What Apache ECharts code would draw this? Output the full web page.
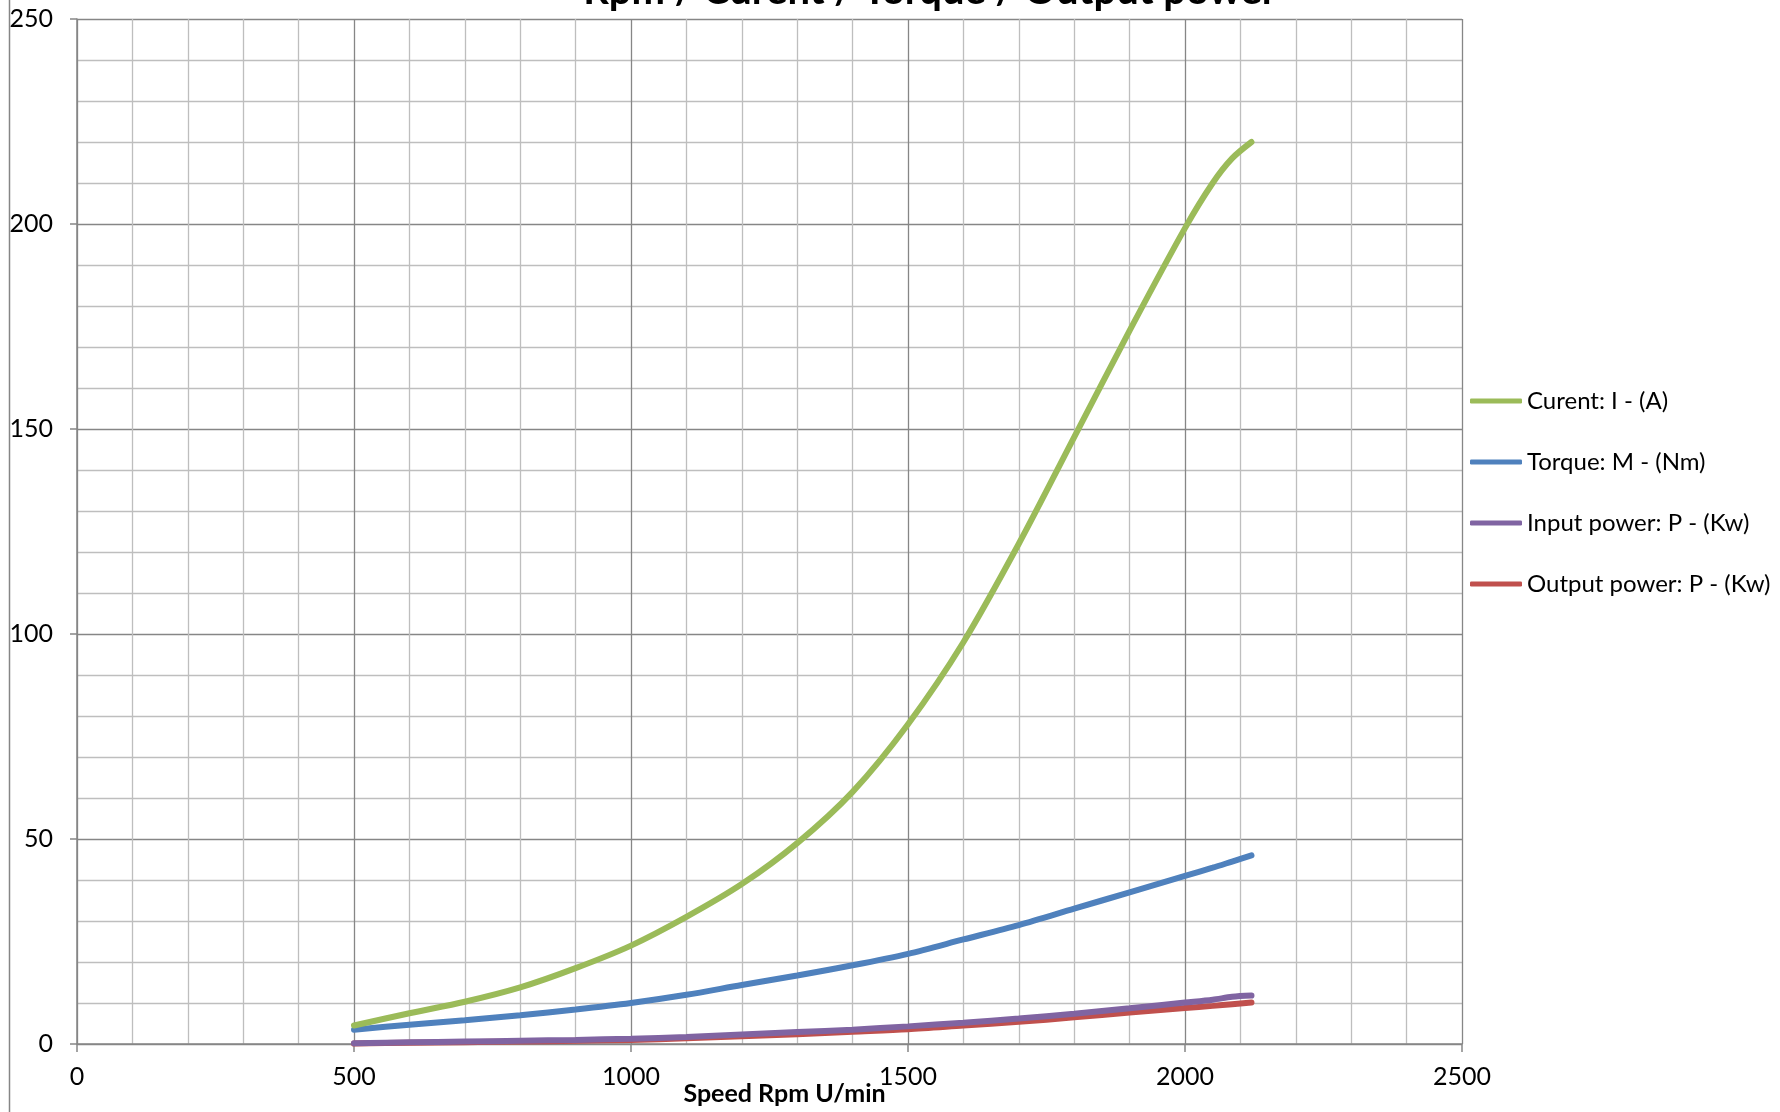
<!DOCTYPE html>
<html>
<head>
<meta charset="utf-8">
<script src="https://cdn.jsdelivr.net/npm/echarts@6/dist/echarts.min.js"></script>
<style>
html,body{margin:0;padding:0;background:#fff;}
#chart{width:1780px;height:1112px;}
</style>
</head>
<body>
<div id="chart"></div>
<script>
const titleText = 'Rpm / Curent / Torque / Output power';
const xAxisName = 'Speed Rpm U/min';
const seriesNames = ['Curent: I - (A)', 'Torque: M - (Nm)', 'Input power: P - (Kw)', 'Output power: P - (Kw)'];
const rpm = [500, 600, 700, 800, 900, 1000, 1100, 1200, 1300, 1400, 1500, 1600, 1700, 1800, 1900, 2000, 2050, 2085, 2120];
const current = [4.5, 7.5, 10.3, 13.8, 18.5, 24, 31, 39, 49, 61.5, 78, 98, 122, 148, 174, 199, 210, 216, 220];
const torque = [3.5, 4.7, 5.8, 7.0, 8.4, 10, 12, 14.4, 16.7, 19.2, 22, 25.5, 29, 33, 37, 41, 43, 44.5, 46];
const inputPower = [0.2, 0.4, 0.6, 0.8, 1.0, 1.3, 1.7, 2.3, 2.9, 3.5, 4.3, 5.2, 6.2, 7.4, 8.7, 10.1, 10.8, 11.5, 11.8];
const outputPower = [0.1, 0.3, 0.45, 0.6, 0.8, 1.0, 1.4, 1.9, 2.4, 3.0, 3.6, 4.5, 5.4, 6.5, 7.7, 8.8, 9.3, 9.7, 10.1];
const colors = ['#9BBB59', '#4F81BD', '#8064A2', '#C0504D'];
const allValues = [current, torque, inputPower, outputPower];

const FONT = 'Lato';
const chart = echarts.init(document.getElementById('chart'), null, {renderer: 'canvas'});

const series = allValues.map((vals, i) => ({
  name: seriesNames[i],
  type: 'line',
  data: rpm.map((x, k) => [x, vals[k]]),
  smooth: 0.3,
  showSymbol: false,
  symbol: 'none',
  lineStyle: {color: colors[i], width: 6, cap: 'round'},
  itemStyle: {color: colors[i]},
  z: 10 - i
}));

chart.setOption({
  animation: false,
  backgroundColor: '#fff',
  textStyle: {fontFamily: FONT},
  title: {
    text: titleText,
    left: 925,
    textAlign: 'center',
    top: -34,
    textStyle: {fontFamily: FONT, fontWeight: 'bold', fontSize: 40, color: '#000'}
  },
  legend: {
    orient: 'vertical',
    left: 1465,
    top: 382,
    itemWidth: 52,
    itemHeight: 5,
    itemGap: 33,
    icon: 'roundRect',
    data: seriesNames,
    textStyle: {fontFamily: FONT, fontSize: 24, color: '#000', lineHeight: 28, padding: [0,0,0,0]}
  },
  grid: {left: 77, right: 318, top: 19, bottom: 68, containLabel: false, outerBoundsMode: 'none'},
  xAxis: {
    type: 'value',
    min: 0, max: 2500, interval: 500,
    name: xAxisName,
    nameLocation: 'middle',
    nameGap: 37,
    nameMoveOverlap: false,
    nameTextStyle: {fontFamily: FONT, fontWeight: 'bold', fontSize: 25, color: '#000', padding: [0,0,0,30], verticalAlign: 'top'},
    axisLine: {show: true, onZero: false, lineStyle: {color: '#868686', width: 1.5}},
    axisTick: {show: true, length: 8, lineStyle: {color: '#868686', width: 1.5}},
    axisLabel: {margin: 20, fontFamily: FONT, fontSize: 25, color: '#000', formatter: v => String(v)},
    splitLine: {show: true, lineStyle: {color: '#868686', width: 1.3}},
    minorTick: {show: false, splitNumber: 5},
    minorSplitLine: {show: true, lineStyle: {color: '#BEBEBE', width: 1.3}}
  },
  yAxis: {
    type: 'value',
    min: 0, max: 250, interval: 50,
    axisLine: {show: true, lineStyle: {color: '#868686', width: 1.5}},
    axisTick: {show: true, length: 7, lineStyle: {color: '#868686', width: 1.5}},
    axisLabel: {margin: 24, fontFamily: FONT, fontSize: 25, color: '#000', formatter: v => String(v)},
    splitLine: {show: true, lineStyle: {color: '#868686', width: 1.3}},
    minorTick: {show: false, splitNumber: 5},
    minorSplitLine: {show: true, lineStyle: {color: '#BEBEBE', width: 1.3}}
  },
  graphic: [{
    type: 'line',
    shape: {x1: 9.5, y1: 0, x2: 9.5, y2: 1112},
    style: {stroke: '#868686', lineWidth: 1.5},
    silent: true
  }],
  series: series
});
</script>
</body>
</html>
